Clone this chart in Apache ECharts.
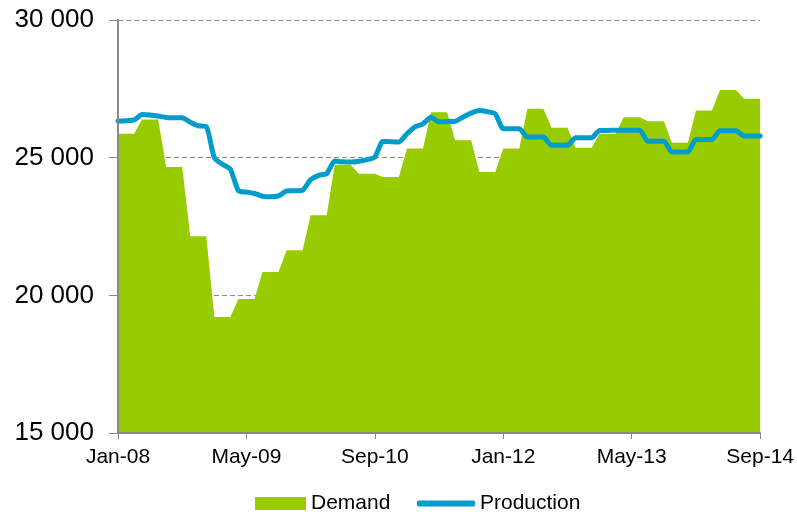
<!DOCTYPE html>
<html>
<head>
<meta charset="utf-8">
<title>Demand vs Production</title>
<script src="https://cdn.jsdelivr.net/npm/echarts@6/dist/echarts.min.js"></script>
<style>
  html, body { margin: 0; padding: 0; background: #fff; }
  .chart { width: 797px; height: 512px; }
</style>
</head>
<body>
<div class="chart"></div>
<script>
// month labels Jan-08 ... Sep-14
var monthNames = ['Jan', 'Feb', 'Mar', 'Apr', 'May', 'Jun', 'Jul', 'Aug', 'Sep', 'Oct', 'Nov', 'Dec'];
var years = ['08', '09', '10', '11', '12', '13', '14'];
var months = [];
for (var y = 0; y < years.length; y++) {
  for (var m = 0; m < 12; m++) {
    if (y === 6 && m > 8) break;
    months.push(monthNames[m] + '-' + years[y]);
  }
}

// demand (quarterly figures, same value each month of a quarter)
var demand = [
  25870, 25870, 25870, 26390, 26390, 26390, 24660, 24660, 24660, 22150, 22150, 22150,
  19210, 19210, 19210, 19870, 19870, 19870, 20850, 20850, 20850, 21640, 21640, 21640,
  22910, 22910, 22910, 24740, 24740, 24740, 24420, 24420, 24420, 24300, 24300, 24300,
  25330, 25330, 25330, 26650, 26650, 26650, 25630, 25630, 25630, 24480, 24480, 24480,
  25330, 25330, 25330, 26780, 26780, 26780, 26090, 26090, 26090, 25360, 25360, 25360,
  25870, 25870, 25870, 26470, 26470, 26470, 26320, 26320, 26320, 25540, 25540, 25540,
  26710, 26710, 26710, 27460, 27460, 27460, 27140, 27140, 27140
];

// production (monthly)
var production = [
  26330, 26340, 26370, 26570, 26550, 26510, 26460, 26450, 26450, 26290, 26160, 26130,
  25000, 24760, 24580, 23800, 23750, 23700, 23600, 23580, 23610, 23790, 23800, 23820,
  24200, 24360, 24420, 24880, 24850, 24840, 24870, 24930, 25020, 25590, 25580, 25570,
  25870, 26120, 26230, 26470, 26300, 26310, 26320, 26480, 26620, 26710, 26670, 26590,
  26050, 26050, 26050, 25750, 25750, 25750, 25450, 25450, 25450, 25720, 25720, 25720,
  25990, 25990, 26000, 26000, 26000, 26000, 25600, 25600, 25600, 25210, 25210, 25210,
  25660, 25660, 25660, 25980, 25980, 25980, 25790, 25790, 25790
];

// y axis range
var yMin = 15000;
var yMax = 30000;
var yStep = 5000;

(function() {
  var myChart = echarts.init(document.querySelector('.chart'));
  var font = 'Liberation Sans, Arial, sans-serif';
  var axisGrey = '#898989';
  var option = {
    animation: false,
    textStyle: { fontFamily: font },
    grid: {
      left: 118,
      right: 34,
      top: 20,
      bottom: 79
    },
    legend: [
      {
        data: [{ name: 'Demand', icon: 'rect' }],
        left: 250,
        top: 488,
        itemWidth: 51,
        itemHeight: 13,
        textStyle: { fontSize: 21, color: '#000', fontFamily: font }
      },
      {
        data: [{ name: 'Production', icon: 'roundRect' }],
        left: 412,
        top: 488,
        itemWidth: 58,
        itemHeight: 6,
        textStyle: { fontSize: 21, color: '#000', fontFamily: font }
      }
    ],
    xAxis: {
      type: 'category',
      data: months,
      boundaryGap: false,
      z: 10,
      axisLine: { lineStyle: { color: axisGrey, width: 2 } },
      axisTick: {
        interval: 15,
        length: 6,
        lineStyle: { color: axisGrey, width: 1 }
      },
      axisLabel: {
        interval: 15,
        color: '#000',
        fontSize: 21,
        margin: 14,
        fontFamily: font
      },
      splitLine: { show: false }
    },
    yAxis: [
      {
        // grid lines only, behind the area
        type: 'value',
        min: yMin,
        max: yMax,
        interval: yStep,
        axisLine: { show: false },
        axisTick: { show: false },
        axisLabel: { show: false },
        splitLine: {
          lineStyle: { color: '#8c8c8c', type: [5, 3], width: 1 }
        }
      },
      {
        // axis line, ticks and labels on top
        type: 'value',
        position: 'left',
        min: yMin,
        max: yMax,
        interval: yStep,
        z: 10,
        axisLine: { show: true, lineStyle: { color: axisGrey, width: 2 } },
        axisTick: { show: true, length: 9, lineStyle: { color: axisGrey, width: 1 } },
        axisLabel: {
          color: '#000',
          fontSize: 26,
          margin: 24,
          fontFamily: font,
          formatter: function(v) {
            return String(v).replace(/\B(?=(\d{3})+(?!\d))/g, ' ');
          }
        },
        splitLine: { show: false }
      }
    ],
    series: [
      {
        name: 'Demand',
        type: 'line',
        data: demand,
        symbol: 'none',
        color: '#99cc00',
        lineStyle: { width: 0 },
        areaStyle: { color: '#99cc00', opacity: 1, origin: 'start' },
        z: 2
      },
      {
        name: 'Production',
        type: 'line',
        data: production,
        symbol: 'none',
        smooth: 0.2,
        color: '#009ccc',
        lineStyle: { width: 5, color: '#009ccc', cap: 'round', join: 'round' },
        z: 3
      }
    ]
  };
  myChart.setOption(option);
})();
</script>
</body>
</html>
